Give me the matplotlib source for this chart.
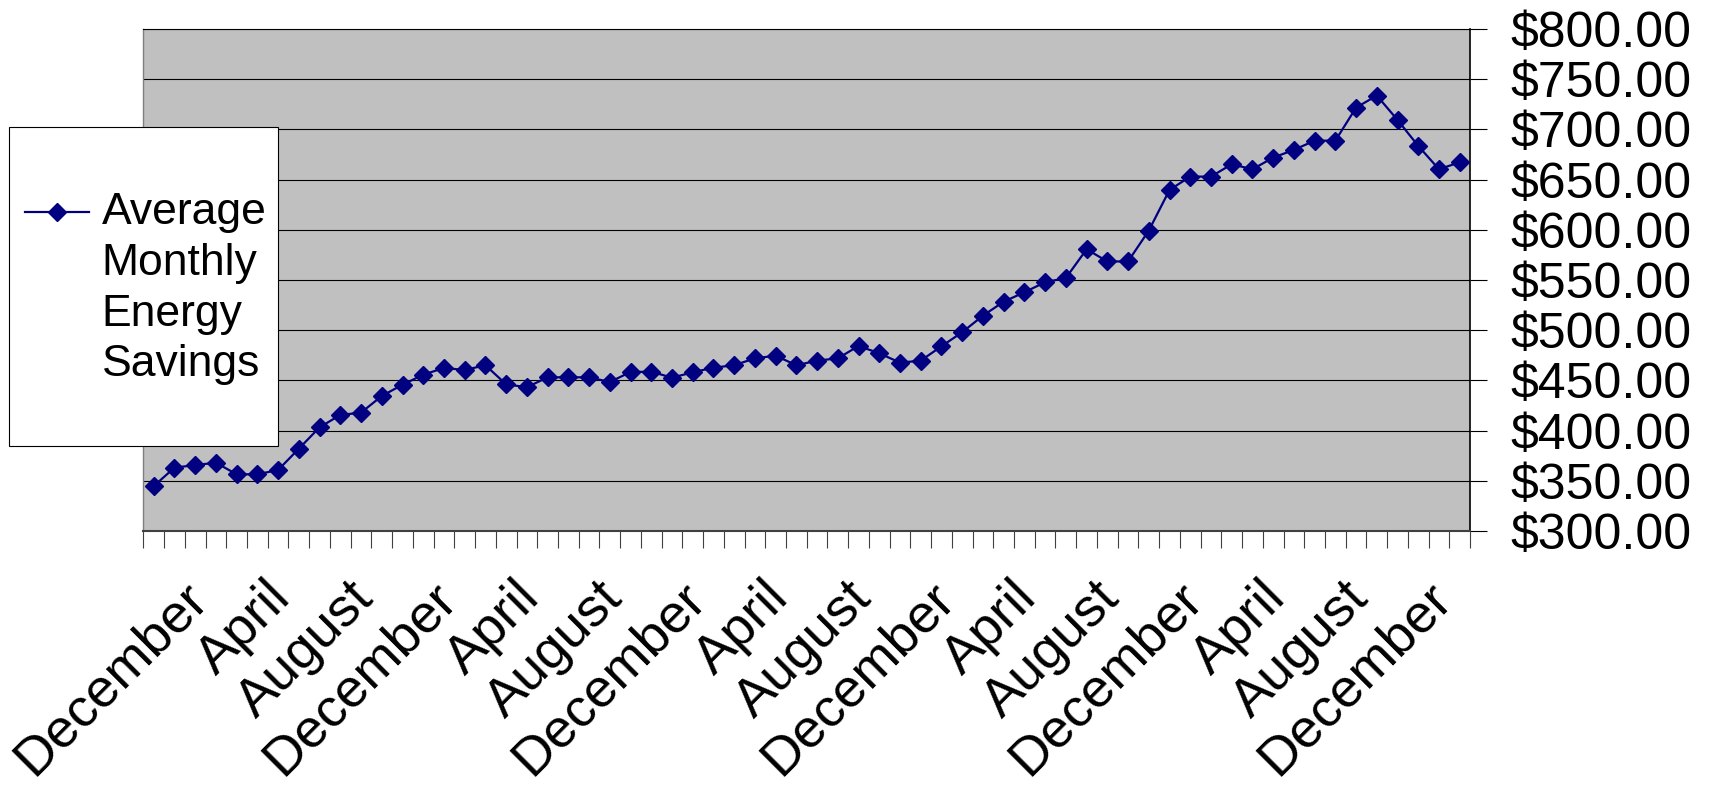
import numpy as np
import matplotlib
matplotlib.use("Agg")
import matplotlib.pyplot as plt
from matplotlib.ticker import FuncFormatter
from matplotlib.patches import Rectangle
from matplotlib.transforms import ScaledTranslation

plt.rcParams['font.family'] = ['Liberation Sans', 'DejaVu Sans']

# Average monthly energy savings, one value per month starting in December
savings = [
    344.8, 363.1, 365.7, 368.0, 356.5, 356.5, 360.8, 382.0, 403.3, 415.6,
    417.9, 434.5, 445.7, 455.7, 462.4, 460.4, 465.1, 446.1, 443.2, 453.1,
    453.1, 453.1, 448.4, 458.4, 458.7, 452.7, 458.1, 462.7, 465.1, 472.0,
    474.6, 465.1, 469.7, 472.0, 484.3, 477.0, 467.7, 469.7, 484.0, 498.0,
    514.5, 528.4, 537.8, 547.8, 552.0, 580.6, 568.5, 568.5, 599.2, 639.7,
    653.0, 653.0, 665.3, 660.3, 671.9, 679.6, 688.8, 688.8, 721.7, 733.7,
    709.4, 683.5, 660.3, 667.3,
]

# Month names shown on the category axis (every fourth month)
month_labels = [
    "December", "April", "August", "December", "April", "August",
    "December", "April", "August", "December", "April", "August",
    "December", "April", "August", "December",
]
label_every = 4

series_name = "Average\nMonthly\nEnergy\nSavings"

y_min, y_max, y_step = 300, 800, 50

W, H, DPI = 1713, 786, 100
fig = plt.figure(figsize=(W / DPI, H / DPI), dpi=DPI)
ax = fig.add_axes([0.0837, 0.3244, 0.7745, 0.6387])
ax.set_facecolor('#C0C0C0')

n = len(savings)
x = np.arange(n)
ax.plot(x, savings, color='#000080', lw=1.6, marker='D', ms=9.3,
        mfc='#000080', mec='#000080', label=series_name, zorder=3,
        clip_on=False)

ax.set_xlim(-0.5, n - 0.5)
ax.set_ylim(y_min, y_max)

# value axis on the right, currency formatted
ax.yaxis.tick_right()
ax.set_yticks(np.arange(y_min, y_max + 1, y_step))
ax.yaxis.set_major_formatter(FuncFormatter(lambda v, p: f"${v:,.2f}"))
ax.tick_params(axis='y', which='major', direction='out', length=12.2,
               width=0.8, pad=17, labelsize=36, colors='black')
ax.grid(axis='y', color='black', lw=0.8)
ax.set_axisbelow(True)

# category axis: tick marks between months, labels every fourth month
ax.set_xticks(np.arange(-0.5, n, 1), minor=True)
ax.set_xticks(np.arange(0, n, label_every))
ax.set_xticklabels(month_labels, rotation=45, ha='right', va='baseline',
                   rotation_mode='anchor', fontsize=39)
ax.tick_params(axis='x', which='major', length=0, pad=49.8)
ax.tick_params(axis='x', which='minor', direction='out', length=12.2,
               width=0.8, color='#404040')
shift = ScaledTranslation(0.56, 0, fig.dpi_scale_trans)
for lab in ax.get_xticklabels():
    lab.set_transform(lab.get_transform() + shift)

for side, col, lw in [('left', '#808080', 1.0), ('right', 'black', 1.2),
                      ('bottom', '#404040', 1.5), ('top', 'black', 0.8)]:
    ax.spines[side].set_color(col)
    ax.spines[side].set_linewidth(lw)

# legend box
fig.add_artist(Rectangle((0.00525, 0.4326), 0.157, 0.4062,
                         transform=fig.transFigure, facecolor='white',
                         edgecolor='black', lw=0.8, zorder=4))

LEG_FS = 32
TEXT_TOP = H - 191.7      # top of the first legend line, display pixels
KEY_GAP = -20.0           # key sits this far below the top of the label


def build_legend(handle_height, anchor_y):
    lg = fig.legend(loc='upper left', bbox_to_anchor=(0.0146, anchor_y),
                    frameon=False, fontsize=LEG_FS, handlelength=1.45,
                    handletextpad=0.27, handleheight=handle_height,
                    borderpad=0, borderaxespad=0)
    lg.get_texts()[0].set_linespacing(1.31)
    lg.set_zorder(5)
    return lg


def measure(lg):
    fig.canvas.draw()
    r = fig.canvas.get_renderer()
    tb = lg.get_texts()[0].get_window_extent(r)
    lb = lg.get_lines()[0].get_window_extent(r)
    return tb.y1, 0.5 * (lb.y0 + lb.y1)


def key_offset(hh, ay):
    lg = build_legend(hh, ay)
    top, ly = measure(lg)
    lg.remove()
    return (ly - top) - KEY_GAP, top


# secant search for the handle height that puts the key beside line one
ay = 0.9
h0, h1 = 8.0, 10.0
e0, _ = key_offset(h0, ay)
e1, _ = key_offset(h1, ay)
for _ in range(4):
    if abs(e1 - e0) < 1e-6:
        break
    h0, h1 = h1, h1 - e1 * (h1 - h0) / (e1 - e0)
    e0 = e1
    e1, _ = key_offset(h1, ay)
hh = h1

_, top = key_offset(hh, ay)
ay += (TEXT_TOP - top) / H
leg = build_legend(hh, ay)

fig.savefig("out.png", dpi=DPI, facecolor='white')
